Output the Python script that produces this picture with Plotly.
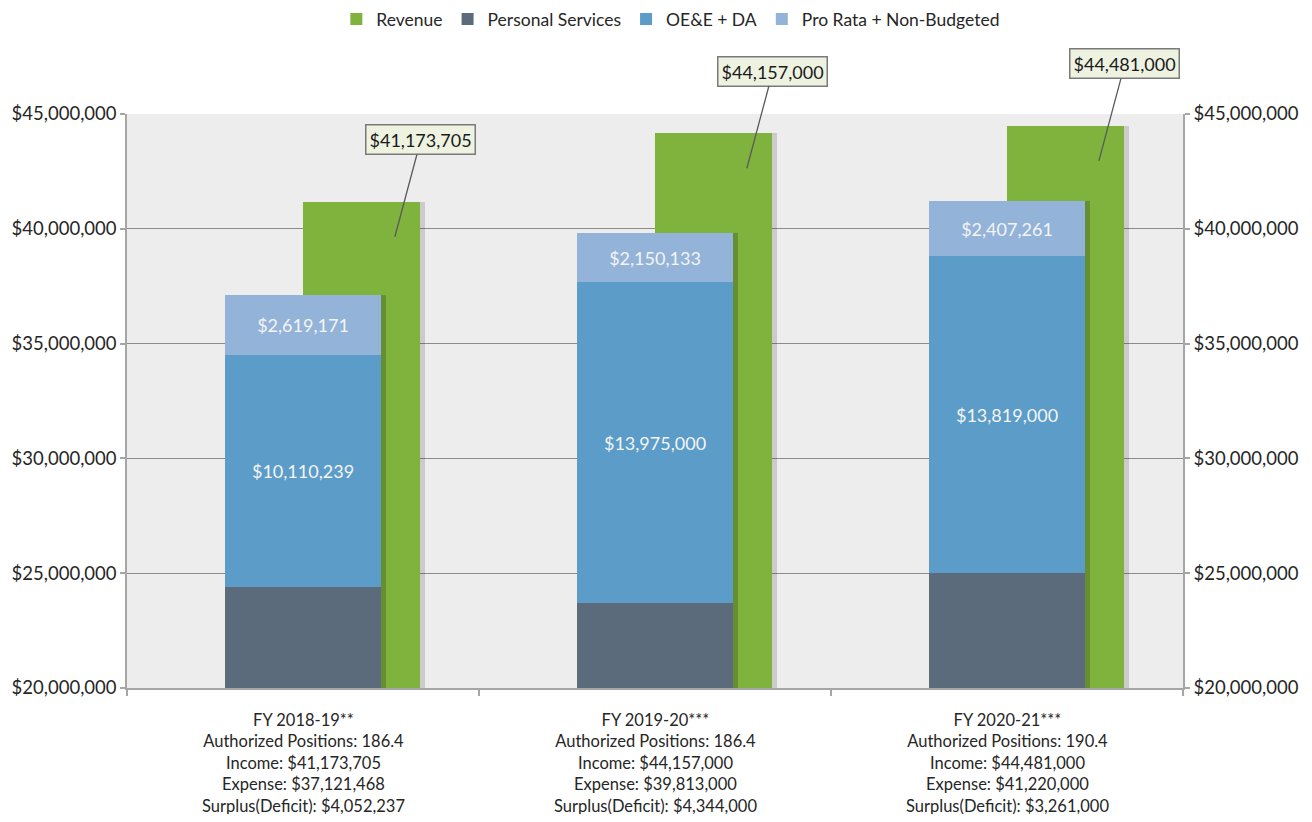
import plotly.graph_objects as go

# ---------------- data ----------------
categories = ["FY 2018-19**", "FY 2019-20***", "FY 2020-21***"]
positions = [186.4, 186.4, 190.4]
income = [41173705, 44157000, 44481000]
expense = [37121468, 39813000, 41220000]
surplus = [4052237, 4344000, 3261000]

revenue = [41173705, 44157000, 44481000]
personal = [24392058, 23687000, 24993000]
oee = [10110239, 13975000, 13819000]
prorata = [2619171, 2150133, 2407261]

y_ticks = [20000000, 25000000, 30000000, 35000000, 40000000, 45000000]

# ---------------- styling ----------------
FONT = "Lato, Calibri, Carlito, sans-serif"
C_REV = "#7fb33d"
C_PS = "#5b6b7b"
C_OEE = "#5b9cc8"
C_PR = "#93b3d9"
PLOT_BG = "#ededed"
GRID = "#8c8c8c"
AXIS = "#a6a6a6"
TXT = "#262626"

xs = list(range(len(categories)))
STACK_W = 0.443
REV_W = 0.332
SHADOW_DX = 0.014

base_oee = personal[:]
base_pr = [p + o for p, o in zip(personal, oee)]
stack_top = [p + o + r for p, o, r in zip(personal, oee, prorata)]

def money(v):
    return "${:,}".format(v)

cat_text = [
    f"{c}<br>Authorized Positions: {p}<br>Income: {money(i)}<br>Expense: {money(e)}<br>Surplus(Deficit): {money(s)}"
    for c, p, i, e, s in zip(categories, positions, income, expense, surplus)
]

fig = go.Figure()

# revenue shadow
fig.add_trace(go.Bar(
    x=xs, y=revenue, width=REV_W, offset=SHADOW_DX,
    marker=dict(color="rgba(0,0,0,0.14)", line=dict(width=0)),
    showlegend=False, hoverinfo="skip",
))
# revenue
fig.add_trace(go.Bar(
    name="Revenue", x=xs, y=revenue, width=REV_W, offset=0.0,
    marker=dict(color=C_REV, line=dict(width=0)),
))
# stacked shadow
fig.add_trace(go.Bar(
    x=xs, y=stack_top, width=STACK_W, offset=-STACK_W / 2 + SHADOW_DX,
    marker=dict(color="rgba(0,0,0,0.2)", line=dict(width=0)),
    showlegend=False, hoverinfo="skip",
))
# stacked segments
for name, vals, base, col in [
    ("Personal Services", personal, None, C_PS),
    ("OE&E + DA", oee, base_oee, C_OEE),
    ("Pro Rata + Non-Budgeted", prorata, base_pr, C_PR),
]:
    fig.add_trace(go.Bar(
        name=name, x=xs, y=vals, base=base, width=STACK_W, offset=-STACK_W / 2,
        marker=dict(color=col, line=dict(width=0)),
        text=[money(v) for v in vals], textposition="inside",
        insidetextanchor="middle", textangle=0,
        textfont=dict(family=FONT, size=18, color="#f4f4f4"),
        constraintext="none",
    ))

# invisible trace on right axis so it renders
fig.add_trace(go.Scatter(
    x=[xs[0]], y=[y_ticks[0]], yaxis="y2", mode="markers",
    marker=dict(opacity=0), showlegend=False, hoverinfo="skip",
))

# callouts for revenue
for i, v in enumerate(revenue):
    fig.add_annotation(
        x=xs[i] + 0.261, y=v - 1520000, xref="x", yref="y",
        text=money(v), showarrow=True, arrowhead=0, arrowwidth=1.3,
        arrowcolor="#5a5a5a", ax=26, ay=-97,
        bgcolor="#eef2e1", bordercolor="#7a7a7a", borderwidth=1.5, borderpad=3,
        font=dict(family=FONT, size=18, color="#1a1a1a"),
    )

# category labels below the axis
for i, t in enumerate(cat_text):
    fig.add_annotation(
        x=xs[i], y=0, xref="x", yref="paper", yanchor="top", xanchor="center",
        yshift=-20, text=t, showarrow=False, align="center",
        font=dict(family=FONT, size=16.5, color=TXT),
    )

yaxis_common = dict(
    range=[y_ticks[0], y_ticks[-1]], tickvals=y_ticks, tickformat="$,.0f",
    ticks="outside", ticklen=5, tickcolor=AXIS, tickwidth=1.5,
    showline=True, linecolor=AXIS, linewidth=1.5,
    tickfont=dict(family=FONT, size=18.5, color=TXT),
    zeroline=False, automargin=False,
)

# figure sized so that figure + default 8px page margins = 1312 x 822
fig.update_layout(
    width=1296, height=806,
    margin=dict(l=119, r=121, t=106, b=126, autoexpand=False),
    paper_bgcolor="white", plot_bgcolor=PLOT_BG,
    barmode="overlay",
    bargap=0, font=dict(family=FONT, size=17, color=TXT),
    xaxis=dict(
        range=[-0.5, len(categories) - 0.5], tickvals=xs, showticklabels=False,
        ticks="", showgrid=False, zeroline=False,
        showline=True, linecolor=AXIS, linewidth=1.5,
        minor=dict(tickvals=[x - 0.5 for x in xs] + [xs[-1] + 0.5], ticks="outside",
                   ticklen=6, tickcolor=AXIS, tickwidth=1.5, showgrid=False),
        automargin=False,
    ),
    yaxis=dict(**yaxis_common, showgrid=True, gridcolor=GRID, gridwidth=1),
    yaxis2=dict(**yaxis_common, overlaying="y", side="right", showgrid=False),
    legend=dict(
        orientation="h", x=0.515, xanchor="center",
        yref="container", y=1 - 11 / 806, yanchor="middle",
        font=dict(family=FONT, size=17.5, color=TXT),
        itemwidth=30, traceorder="normal", bgcolor="rgba(0,0,0,0)",
    ),
)

fig.write_html("out.html")
